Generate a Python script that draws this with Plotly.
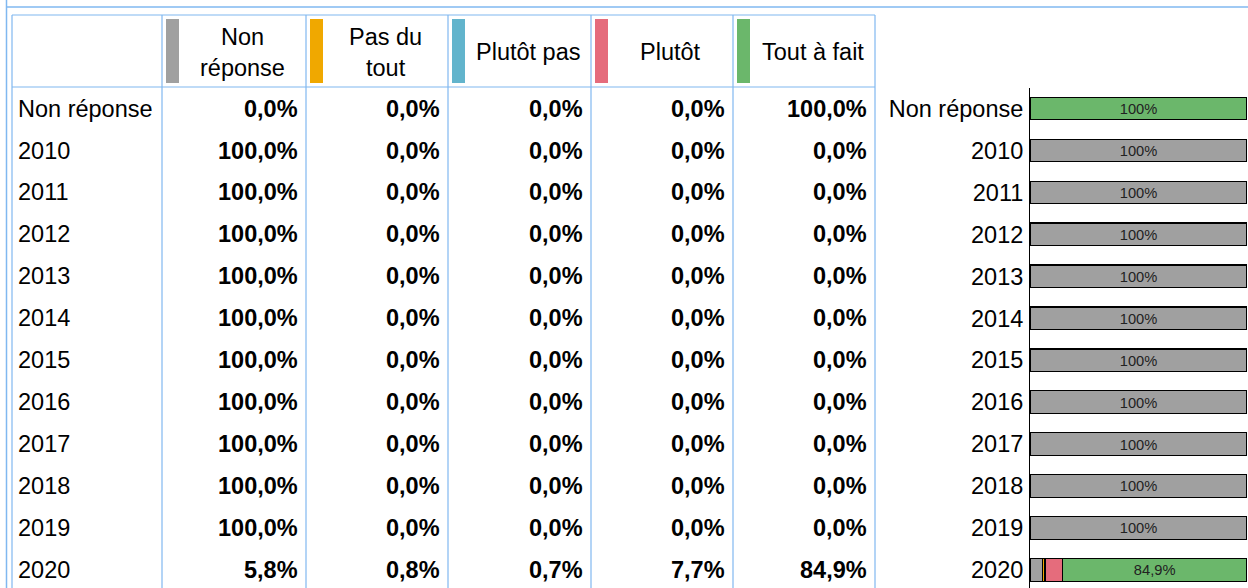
import plotly.graph_objects as go

# ---------------- data ----------------
categories = ["Non réponse", "2010", "2011", "2012", "2013", "2014", "2015",
              "2016", "2017", "2018", "2019", "2020"]
series_names = ["Non réponse", "Pas du tout", "Plutôt pas", "Plutôt", "Tout à fait"]
header_labels = ["Non<br>réponse", "Pas du<br>tout", "Plutôt pas", "Plutôt", "Tout à fait"]
non_reponse = [0.0, 100.0, 100.0, 100.0, 100.0, 100.0, 100.0, 100.0, 100.0, 100.0, 100.0, 5.8]
pas_du_tout = [0.0, 0.0, 0.0, 0.0, 0.0, 0.0, 0.0, 0.0, 0.0, 0.0, 0.0, 0.8]
plutot_pas = [0.0, 0.0, 0.0, 0.0, 0.0, 0.0, 0.0, 0.0, 0.0, 0.0, 0.0, 0.7]
plutot = [0.0, 0.0, 0.0, 0.0, 0.0, 0.0, 0.0, 0.0, 0.0, 0.0, 0.0, 7.7]
tout_a_fait = [100.0, 0.0, 0.0, 0.0, 0.0, 0.0, 0.0, 0.0, 0.0, 0.0, 0.0, 84.9]
series_values = [non_reponse, pas_du_tout, plutot_pas, plutot, tout_a_fait]
series_colors = ["#A0A0A0", "#F0A800", "#62B4CC", "#E56C7C", "#6BB76B"]

# ---------------- layout constants ----------------
W, H = 1248, 588
FONT = "Liberation Sans, Arial, sans-serif"
GRID = "#80B8F0"
PLOT_TOP = 88
COL_EDGES = [12, 162, 306, 448, 591, 733, 875]
TABLE_TOP, HEADER_BOTTOM = 15, 87
FRAME_X, FRAME_Y = 6.5, 7
FS = 23.5


def fmt_cell(v):
    return f"{v:.1f}".replace(".", ",") + "%"


def fmt_bar(v):
    if v < 10:
        return ""
    if float(v).is_integer():
        return f"{int(v)}%"
    return f"{v:.1f}".replace(".", ",") + "%"


fig = go.Figure()

# stacked horizontal bars
for name, vals, col in zip(series_names, series_values, series_colors):
    fig.add_trace(go.Bar(
        y=categories, x=vals, name=name, orientation="h",
        marker=dict(color=col, line=dict(color="#000000", width=1.2)),
        text=[fmt_bar(v) for v in vals], textposition="inside",
        insidetextanchor="middle", textangle=0,
        textfont=dict(size=15, color="#222222", family=FONT),
        hoverinfo="skip", showlegend=False,
    ))

# invisible trace to instantiate the pixel overlay axes
fig.add_trace(go.Scatter(x=[0], y=[0], xaxis="x2", yaxis="y2", mode="markers",
                         marker=dict(opacity=0), hoverinfo="skip", showlegend=False))

shapes = []
annotations = []

# outer frame
shapes.append(dict(type="line", xref="x2", yref="y2", x0=FRAME_X, x1=W, y0=FRAME_Y, y1=FRAME_Y,
                   line=dict(color=GRID, width=1.5)))
shapes.append(dict(type="line", xref="x2", yref="y2", x0=FRAME_X, x1=FRAME_X, y0=0, y1=H,
                   line=dict(color=GRID, width=1.5)))
# table lines
for xe in COL_EDGES:
    shapes.append(dict(type="line", xref="x2", yref="y2", x0=xe, x1=xe, y0=TABLE_TOP, y1=H,
                       line=dict(color=GRID, width=1.2)))
for ye in (TABLE_TOP, HEADER_BOTTOM):
    shapes.append(dict(type="line", xref="x2", yref="y2", x0=COL_EDGES[0], x1=COL_EDGES[-1],
                       y0=ye, y1=ye, line=dict(color=GRID, width=1.2)))

# header: swatches + labels
for i, (lab, col) in enumerate(zip(header_labels, series_colors)):
    left, right = COL_EDGES[i + 1], COL_EDGES[i + 2]
    shapes.append(dict(type="rect", xref="x2", yref="y2", x0=left + 4, x1=left + 17,
                       y0=19, y1=83, fillcolor=col, line=dict(width=0)))
    annotations.append(dict(xref="x2", yref="y2", x=(left + 17 + right) / 2, y=52,
                            text=lab, showarrow=False, xanchor="center", yanchor="middle",
                            font=dict(size=FS, color="#000", family=FONT)))

# body: row labels + values (y = category index on the shared bar axis)
for r, cat in enumerate(categories):
    annotations.append(dict(xref="x2", yref="y", x=COL_EDGES[0] + 4, y=r, text=cat,
                            showarrow=False, xanchor="left", yanchor="middle",
                            font=dict(size=FS, color="#000", family=FONT)))
    for c, vals in enumerate(series_values):
        annotations.append(dict(xref="x2", yref="y", x=COL_EDGES[c + 2] - 6.5, y=r,
                                text="<b>" + fmt_cell(vals[r]) + "</b>",
                                showarrow=False, xanchor="right", yanchor="middle",
                                font=dict(size=FS, color="#000", family=FONT)))

fig.update_layout(
    width=W, height=H,
    margin=dict(l=0, r=0, t=0, b=0, pad=0),
    paper_bgcolor="white", plot_bgcolor="rgba(0,0,0,0)",
    barmode="stack", bargap=0.46,
    font=dict(family=FONT, color="#000"),
    xaxis=dict(domain=[1030 / W, 1247 / W], range=[0, 100], visible=False, fixedrange=True),
    yaxis=dict(domain=[0, (H - PLOT_TOP) / H], type="category", categoryarray=categories,
               categoryorder="array", range=[11.43, -0.49], autorange=False,
               showline=True, linecolor="#000", linewidth=1, ticks="",
               ticklabelstandoff=1, showgrid=False, zeroline=False,
               tickfont=dict(size=FS, color="#000", family=FONT), anchor="x", fixedrange=True),
    xaxis2=dict(domain=[0, 1], range=[0, W], visible=False, anchor="y2", fixedrange=True),
    yaxis2=dict(domain=[0, 1], range=[H, 0], visible=False, anchor="x2", fixedrange=True),
    shapes=shapes, annotations=annotations,
)

fig.write_html("out.html", config={"displayModeBar": False, "staticPlot": True},
               post_script="document.body.style.margin='0';")
